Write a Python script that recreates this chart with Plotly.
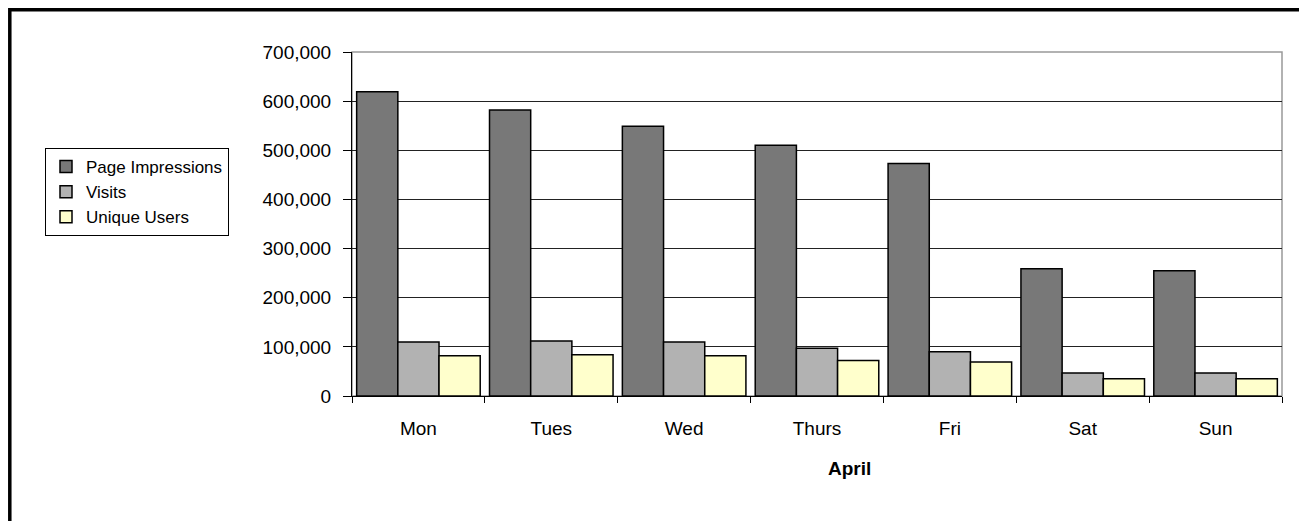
import plotly.graph_objects as go

days = ["Mon", "Tues", "Wed", "Thurs", "Fri", "Sat", "Sun"]
page_impressions = [619000, 582000, 549000, 510000, 473000, 259000, 255000]
visits = [110000, 112000, 110000, 97000, 90000, 47000, 47000]
unique_users = [82000, 84000, 82000, 72000, 69000, 35000, 35000]
y_ticks = [0, 100000, 200000, 300000, 400000, 500000, 600000, 700000]
y_labels = ["0", "100,000", "200,000", "300,000", "400,000", "500,000", "600,000", "700,000"]

FONT = "Liberation Sans, Arial, sans-serif"

fig = go.Figure()
for name, vals, col in [
    ("Page Impressions", page_impressions, "#787878"),
    ("Visits", visits, "#b2b2b2"),
    ("Unique Users", unique_users, "#ffffcc"),
]:
    fig.add_trace(go.Bar(
        x=days, y=vals, name=name,
        marker=dict(color=col, line=dict(color="black", width=1.5)),
    ))

# page body has an 8px margin; work in page coordinates and shift
OFF = 8
W, H = 1307 - OFF, 521 - OFF
L, R, T, B = 352 - OFF, 1307 - 1282, 52 - OFF, 521 - 396
pw, ph = W - L - R, H - T - B

def px(x):
    return (x - OFF - L) / pw

def py(y):
    return 1 - (y - OFF - T) / ph

fig.update_layout(
    width=W, height=H,
    margin=dict(l=L, r=R, t=T, b=B),
    paper_bgcolor="white", plot_bgcolor="white",
    barmode="group", bargap=0.07, bargroupgap=0,
    font=dict(family=FONT, size=19, color="black"),
    legend=dict(
        x=px(45), y=py(148), xanchor="left", yanchor="top",
        bordercolor="black", borderwidth=1, bgcolor="white",
        font=dict(family=FONT, size=17, color="black"),
        tracegroupgap=0, itemwidth=30,
    ),
    xaxis=dict(
        showline=True, linecolor="black", linewidth=1,
        ticks="outside", ticklen=6, tickcolor="black",
        tickson="boundaries", ticklabelstandoff=15,
        tickfont=dict(family=FONT, size=19, color="black"),
        showgrid=False, mirror=False,
    ),
    yaxis=dict(
        range=[0, 700000], tickvals=y_ticks, ticktext=y_labels,
        showline=True, linecolor="black", linewidth=1,
        ticks="outside", ticklen=8, tickcolor="black",
        ticklabelstandoff=8,
        showgrid=True, gridcolor="#222222", gridwidth=1,
        zeroline=False,
        tickfont=dict(family=FONT, size=19, color="black"),
    ),
    shapes=[
        dict(type="rect", xref="paper", yref="paper", x0=0, x1=1, y0=0, y1=1,
             line=dict(color="#999999", width=1.5), layer="below"),
        dict(type="rect", xref="paper", yref="paper",
             x0=px(9.8), x1=px(1301), y0=py(9.8), y1=py(560),
             line=dict(color="black", width=3.5)),
    ],
    annotations=[
        dict(text="<b>April</b>", xref="paper", yref="paper",
             x=px(849), y=py(468), xanchor="center", yanchor="middle",
             showarrow=False, font=dict(family=FONT, size=19, color="black")),
    ],
)

fig.write_html("out.html")
